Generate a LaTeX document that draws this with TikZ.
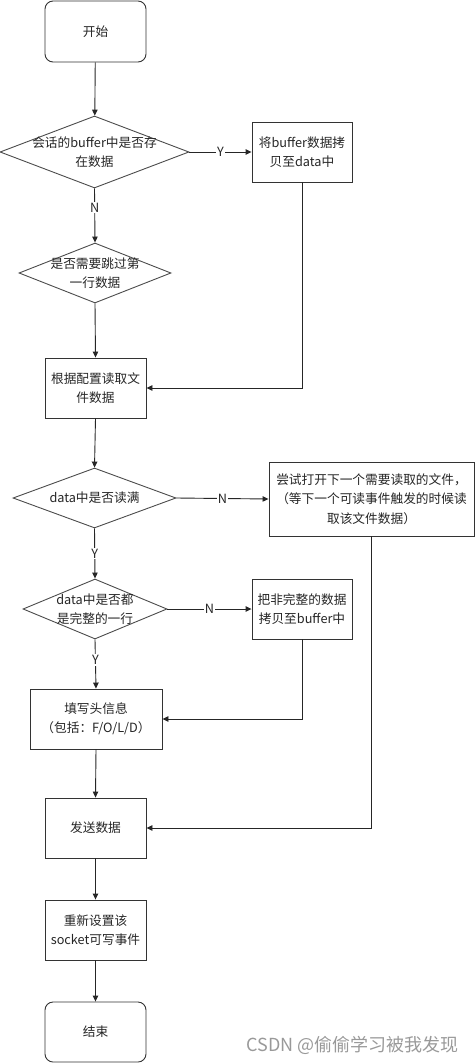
\documentclass[tikz,border=0pt]{standalone}
\usepackage{fontspec}
\setmainfont{Noto Sans CJK SC}
\usetikzlibrary{shapes.geometric,arrows.meta}
\begin{document}
\begin{tikzpicture}[x=1pt,y=-1pt,
  every node/.style={font=\fontsize{12.7}{19.3}\selectfont, text=black!85},
  box/.style={draw=black!80, line width=0.9pt, rectangle, inner sep=0pt, align=center, fill=white},
  term/.style={box, rounded corners=8pt},
  dia/.style={draw=black!70, line width=0.9pt, diamond, inner sep=0pt, fill=white},
  txt/.style={align=center, inner sep=0pt},
  arr/.style={draw=black!85, line width=0.9pt, -{Triangle[length=6pt,width=5.5pt]}},
  lab/.style={fill=white, inner sep=1pt}]
\useasboundingbox (0,0) rectangle (474,1064);

\node[term, minimum width=101pt, minimum height=61pt] (start) at (95.5,31.5) {开始};
\node[dia, minimum width=189pt, minimum height=72pt,
  label={[txt]center:会话的buffer中是否存\\在数据}] (d1) at (94.5,152) {};
\node[box, minimum width=100pt, minimum height=60pt] (b1) at (302,152) {将buffer数据拷\\贝至data中};
\node[dia, minimum width=152pt, minimum height=60pt,
  label={[txt]center:是否需要跳过第\\一行数据}] (d2) at (95,273) {};
\node[box, minimum width=101pt, minimum height=60pt] (read) at (95.5,388) {根据配置读取文\\件数据};
\node[dia, minimum width=163pt, minimum height=60pt,
  label={[txt]center:data中是否读满}] (d3) at (94.5,498) {};
\node[box, minimum width=205pt, minimum height=74pt] (b2) at (371.5,499) {尝试打开下一个需要读取的文件，\\（等下一个可读事件触发的时候读\\取该文件数据）};
\node[dia, minimum width=144pt, minimum height=60pt,
  label={[txt]center:data中是否都\\是完整的一行}] (d4) at (95,609) {};
\node[box, minimum width=100pt, minimum height=60pt] (b3) at (302,609) {把非完整的数据\\拷贝至buffer中};
\node[box, minimum width=132pt, minimum height=60pt] (fill) at (96,719) {填写头信息\\（包括：F/O/L/D）};
\node[box, minimum width=101pt, minimum height=60pt] (send) at (95.5,828) {发送数据};
\node[box, minimum width=101pt, minimum height=60pt] (reset) at (95.5,930) {重新设置该\\socket可写事件};
\node[term, minimum width=101pt, minimum height=60pt] (end) at (95.5,1032) {结束};

\draw[arr] (start) -- (d1);
\draw[arr] (d1.east) -- node[lab]{Y} (b1.west);
\draw[arr] (d1.south) -- node[lab, pos=0.35]{N} (d2.north);
\draw[arr] (d2.south) -- (read.north);
\draw[arr] (b1.south) |- (read.east);
\draw[arr] (read.south) -- (d3.north);
\draw[arr] (d3.east) -- node[lab]{N} (b2.west);
\draw[arr] (d3.south) -- node[lab]{Y} (d4.north);
\draw[arr] (d4.east) -- node[lab]{N} (b3.west);
\draw[arr] (d4.south) -- node[lab, pos=0.42]{Y} (fill.north);
\draw[arr] (b3.south) |- (fill.east);
\draw[arr] (fill.south) -- (send.north);
\draw[arr] (b2.south) |- (send.east);
\draw[arr] (send.south) -- (reset.north);
\draw[arr] (reset.south) -- (end.north);

\node[anchor=east, font=\fontsize{18}{20}\selectfont, text=black!40, inner sep=0pt] (wm) at (459,1045) {CSDN @偷偷学习被我发现};
\end{tikzpicture}
\end{document}
